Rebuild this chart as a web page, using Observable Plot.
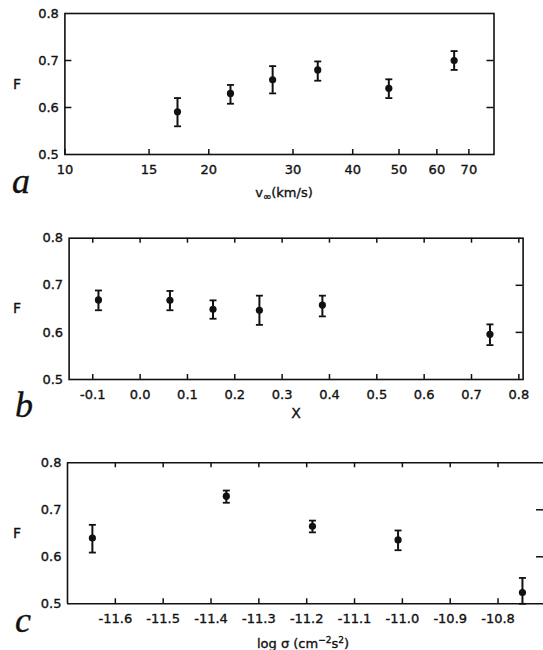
<!DOCTYPE html>
<html><head><meta charset="utf-8">
<script src="https://cdn.jsdelivr.net/npm/d3@7"></script>
<script src="https://cdn.jsdelivr.net/npm/@observablehq/plot@0.6"></script>
<style>
body{margin:0;background:#fff;}
#fig{position:relative;width:543px;height:650px;overflow:hidden;}
.panel{position:absolute;left:0;}
#overlay{position:absolute;left:0;top:0;pointer-events:none;}
#fig svg text{stroke:#111;stroke-width:0.35px;}
</style></head><body><div id="fig"></div>
<script>
// ---- data ----
const yTicks = [0.5, 0.6, 0.7, 0.8];
const yInnerTicks = [0.6, 0.7];

const vInf   = [17.2, 22.2, 27.2, 33.8, 47.6, 65.2];
const Fa     = [0.591, 0.630, 0.659, 0.680, 0.641, 0.700];
const Fa_lo  = [0.560, 0.608, 0.630, 0.657, 0.620, 0.680];
const Fa_hi  = [0.620, 0.648, 0.688, 0.698, 0.660, 0.720];
const xTicksA = [10, 15, 20, 30, 40, 50, 60, 70];

const Xb     = [-0.088, 0.063, 0.154, 0.252, 0.385, 0.739];
const Fb     = [0.669, 0.668, 0.649, 0.647, 0.658, 0.596];
const Fb_lo  = [0.647, 0.647, 0.629, 0.616, 0.634, 0.573];
const Fb_hi  = [0.689, 0.688, 0.668, 0.678, 0.678, 0.617];
const xTicksB = [-0.1, 0.0, 0.1, 0.2, 0.3, 0.4, 0.5, 0.6, 0.7, 0.8];

const logSigma = [-11.648, -11.368, -11.188, -11.009, -10.749];
const Fc     = [0.640, 0.729, 0.665, 0.636, 0.524];
const Fc_lo  = [0.609, 0.715, 0.652, 0.614, 0.500];
const Fc_hi  = [0.668, 0.741, 0.677, 0.656, 0.555];
const xTicksC = [-11.6, -11.5, -11.4, -11.3, -11.2, -11.1, -11.0, -10.9, -10.8];

const INK = "#111";
const cap = {draw(ctx){ const w = 3.5; ctx.moveTo(-w, 0); ctx.lineTo(w, 0); }};

function panel(o) {
  const data = o.xs.map((x, i) => ({x, y: o.ys[i], lo: o.lo[i], hi: o.hi[i]}));
  const ph = o.height - o.mt - o.mb;
  const pw = 543 - o.ml - o.mr;
  const frameMarks = o.openRight
    ? [Plot.ruleY([0.5, 0.8], {stroke: INK, strokeWidth: 1.6}),
       Plot.ruleX([o.xDomain[0]], {stroke: INK, strokeWidth: 1.6})]
    : [Plot.frame({stroke: INK, strokeWidth: 1.6})];
  const marks = [
    ...frameMarks,
    Plot.tickX(o.xTicks, {x: d => d, insetTop: ph - 5, stroke: INK, strokeWidth: 1.5}),
    o.topTicks ? Plot.tickX(o.xTicks, {x: d => d, insetBottom: ph - 5, stroke: INK, strokeWidth: 1.5}) : null,
    Plot.tickY(yInnerTicks, {y: d => d, insetLeft: pw - 7, stroke: INK, strokeWidth: 1.5}),
    o.leftTicks ? Plot.tickY(yInnerTicks, {y: d => d, insetRight: pw - 7, stroke: INK, strokeWidth: 1.5}) : null,
    Plot.axisX({ticks: o.xTicks, tickSize: 0, tickPadding: 10, tickFormat: o.xFmt, label: null, fill: INK}),
    Plot.axisY({ticks: yTicks, tickSize: 0, tickPadding: 6, tickFormat: d => d.toFixed(1), label: null, fill: INK}),
    Plot.ruleX(data, {x: "x", y1: "lo", y2: "hi", stroke: INK, strokeWidth: 2}),
    Plot.dot(data, {x: "x", y: "hi", symbol: cap, stroke: INK, strokeWidth: 1.8, fill: "none"}),
    Plot.dot(data, {x: "x", y: "lo", symbol: cap, stroke: INK, strokeWidth: 1.8, fill: "none"}),
    Plot.dot(data, {x: "x", y: "y", r: 3.6, fill: INK, stroke: "none"})
  ].filter(Boolean);
  const svg = Plot.plot({
    width: 543, height: o.height,
    marginTop: o.mt, marginBottom: o.mb, marginLeft: o.ml, marginRight: o.mr,
    style: {fontFamily: "'DejaVu Sans', sans-serif", fontSize: "13px", background: "transparent", color: INK},
    x: {type: o.xType, domain: o.xDomain, axis: null},
    y: {domain: [0.5, 0.8], axis: null},
    marks
  });
  const div = document.createElement("div");
  div.className = "panel";
  div.style.top = o.top + "px";
  div.appendChild(svg);
  document.getElementById("fig").appendChild(div);
}

panel({top: 0, height: 220, mt: 13, mb: 66, ml: 64.4, mr: 49.5,
  xType: "log", xDomain: [10, 79], xTicks: xTicksA, xFmt: d => String(d),
  xs: vInf, ys: Fa, lo: Fa_lo, hi: Fa_hi, topTicks: false, leftTicks: true});

panel({top: 220, height: 220, mt: 17.7, mb: 61, ml: 68.6, mr: 20.4,
  xType: "linear", xDomain: [-0.15, 0.809], xTicks: xTicksB, xFmt: d => d.toFixed(1),
  xs: Xb, ys: Fb, lo: Fb_lo, hi: Fb_hi, topTicks: true, leftTicks: false});

panel({top: 440, height: 210, mt: 22.3, mb: 46.7, ml: 67, mr: 0,
  xType: "linear", xDomain: [-11.70, -10.705], xTicks: xTicksC, xFmt: d => d.toFixed(1),
  xs: logSigma, ys: Fc, lo: Fc_lo, hi: Fc_hi, topTicks: true, leftTicks: false, openRight: true});

// ---- overlay texts (axis titles & panel letters) ----
const ns = "http://www.w3.org/2000/svg";
const ov = document.createElementNS(ns, "svg");
ov.setAttribute("id", "overlay");
ov.setAttribute("width", 543); ov.setAttribute("height", 650);
ov.innerHTML = `
<g font-family="'DejaVu Sans', sans-serif" font-size="13" fill="${INK}" text-anchor="middle">
  <text x="17" y="89" font-size="14">F</text>
  <text x="17" y="313" font-size="14">F</text>
  <text x="17" y="538" font-size="14">F</text>
  <text x="284" y="197">v<tspan font-size="10" dy="3">∞</tspan><tspan dy="-3">(km/s)</tspan></text>
  <text x="296" y="418" font-size="14">X</text>
  <text x="303" y="648">log σ  (cm<tspan font-size="9" dy="-5">−2</tspan><tspan dy="5">s</tspan><tspan font-size="9" dy="-5">2</tspan><tspan dy="5">)</tspan></text>
</g>
<g font-family="'Liberation Serif', serif" font-style="italic" font-size="36" fill="${INK}">
  <text x="12" y="193">a</text>
  <text x="15" y="417">b</text>
  <text x="15" y="632">c</text>
</g>`;
document.getElementById("fig").appendChild(ov);
</script>
</body></html>
